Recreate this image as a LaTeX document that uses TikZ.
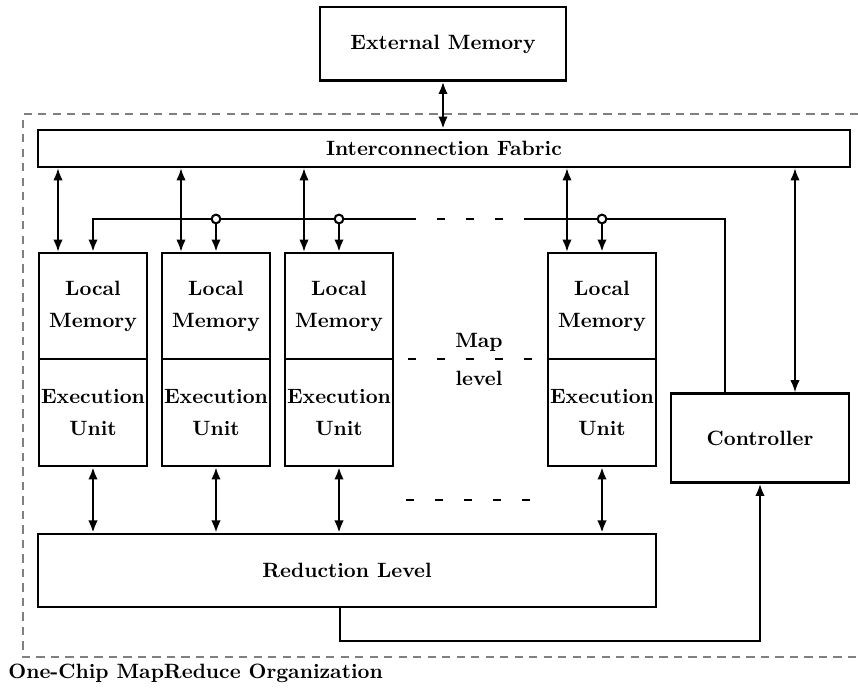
\documentclass[tikz,border=0pt]{standalone}
\usetikzlibrary{arrows.meta,calc}
\begin{document}
\begin{tikzpicture}[x=0.483pt,y=-0.483pt,
  box/.style={draw,line width=1pt,inner sep=0pt,align=center,font=\bfseries\fontsize{10}{15.5}\selectfont},
  lm/.style={box,minimum width=52.2pt,minimum height=51.2pt},
  eu/.style={box,minimum width=52.2pt,minimum height=51.7pt},
  link/.style={line width=1pt,{Latex[length=6pt,width=4.6pt]}-{Latex[length=6pt,width=4.6pt]}},
  downlink/.style={line width=1pt,-{Latex[length=6pt,width=4.6pt]}},
  redlink/.style={link,line width=1.3pt},
  busline/.style={line width=1.4pt},
  feed/.style={line width=1.3pt,-{Latex[length=6pt,width=4.6pt]}},
  gapdash/.style={line width=1.1pt,dash pattern=on 4pt off 10pt},
  tap/.style={circle,draw,line width=1pt,fill=white,inner sep=0pt,minimum size=4.2pt},
  frame/.style={draw=gray,line width=0.6pt,dash pattern=on 4pt off 3pt},
  lbl/.style={font=\bfseries,inner sep=0pt}]

\useasboundingbox (0,0) rectangle (858,688);
\draw[frame] (858,114) -- (23,114) -- (23,657) -- (858,657);

\node[box,minimum width=118.8pt,minimum height=35.3pt] (ext) at (443,44) {External Memory};
\node[box,minimum width=392.2pt,minimum height=17.9pt] (fab) at (444,148.5) {Interconnection Fabric};

\foreach \n/\cx in {1/93,2/216,3/339,4/602}{
  \node[lm] (lm\n) at (\cx,306) {Local\\Memory};
  \node[eu] (eu\n) at (\cx,412.5) {Execution\\Unit};
}

\node[box,minimum width=86pt,minimum height=43pt] (ctrl) at (760,438) {Controller};
\node[box,minimum width=298.5pt,minimum height=35.3pt] (red) at (347,570.5) {Reduction Level};
\node[lbl] (map) at (479,342) {Map};
\node[lbl] (lvl) at (479,378) {level};
\node[lbl,anchor=base west] (cap) at (8,679) {One-Chip MapReduce Organization};

% external memory <-> fabric
\draw[link,line width=1.4pt] (ext.south) -- (ext.south |- fab.north);

% fabric <-> local memories
\foreach \n in {1,...,4}{
  \coordinate (f\n) at ($(lm\n.north)+(-35,0)$);
  \draw[link] (fab.south -| f\n) -- (f\n);
}

% bus from controller
\coordinate (busy) at (0,219);
\coordinate (br) at (725,219);
\coordinate (d1) at (410,219);
\coordinate (d2) at (532,219);
\coordinate (d0) at (408,219);
\draw[busline] (ctrl.north -| br) -- (br) -- (d2);
\draw[busline,gapdash] (d2) -- (d0);
\draw[busline,-{Latex[length=6pt,width=4.6pt]}] (d1) -| (lm1.north);
\foreach \n in {2,3,4}{
  \draw[downlink,line width=1.3pt] (lm\n.north |- busy) -- (lm\n.north);
  \node[tap] (t\n) at (lm\n.north |- busy) {};
}

% gap dashes
\draw[gapdash] (532,359) -- (408,359);
\draw[gapdash] (530,500) -- (406,500);

% fabric <-> controller
\coordinate (cx) at (795,0);
\draw[link] (fab.south -| cx) -- (ctrl.north -| cx);

% execution units <-> reduction level
\foreach \n in {1,...,4}{
  \draw[redlink] (eu\n.south) -- (eu\n.south |- red.north);
}

% reduction -> controller
\coordinate (fb) at (340,641);
\draw[feed] (red.south -| fb) -- (fb) -| (ctrl.south);
\end{tikzpicture}
\end{document}
